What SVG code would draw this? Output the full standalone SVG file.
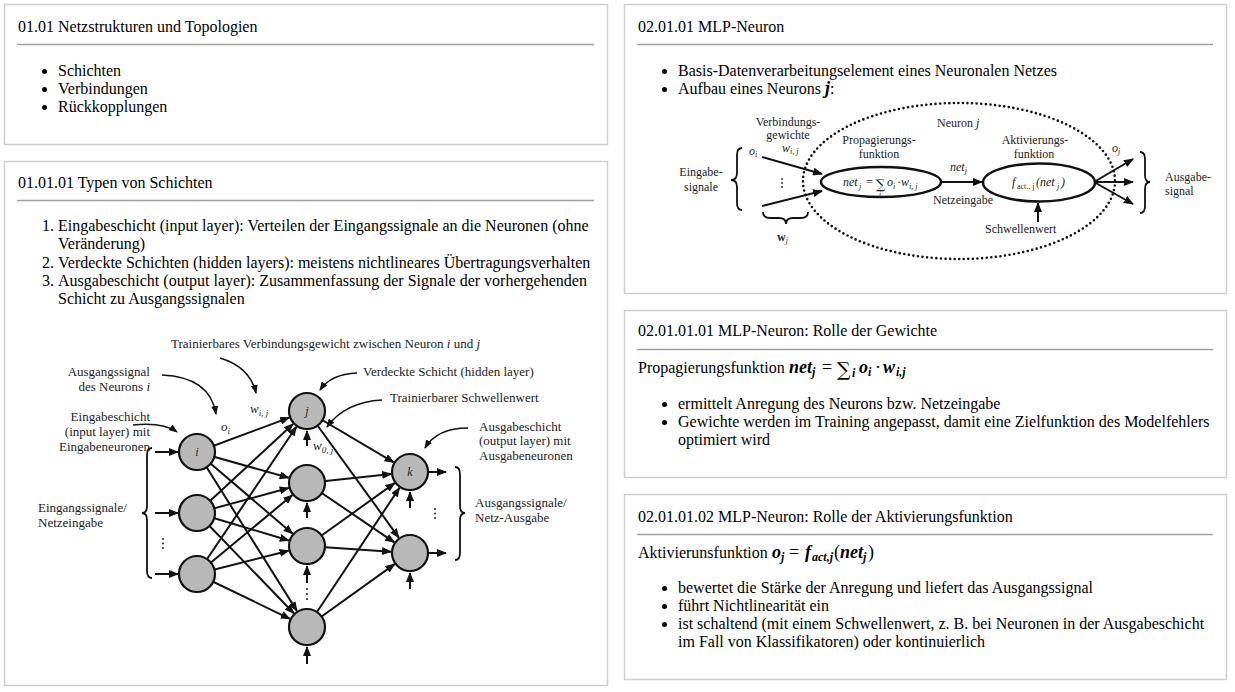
<svg xmlns="http://www.w3.org/2000/svg" width="1235" height="692" viewBox="0 0 1235 692">
<style>
.panel{fill:#fff;stroke:#cfcfcf;stroke-width:1.5}
.rule{stroke:#a0a0a0;stroke-width:1.3}
.t{font-family:"Liberation Serif","Times New Roman",serif;font-size:16px;fill:#000}
.f{font-family:"Liberation Serif","Times New Roman",serif;font-size:13px;fill:#222}
.g{font-family:"Liberation Serif","Times New Roman",serif;font-size:12px;fill:#222}
.it{font-style:italic}
.mb{font-style:italic;font-weight:bold;font-size:18px}
.sub{font-size:12px}
.ss{font-size:9px}
.sm{font-size:8px}
.bul{fill:#000}
.neu{fill:#b8b8b8;stroke:#111;stroke-width:2.2}
.e{fill:none;stroke:#111;stroke-width:2}
.la{fill:none;stroke:#111;stroke-width:1.5}
.br{fill:none;stroke:#111;stroke-width:1.8}
.dot{fill:#222}
.ell{fill:#fff;stroke:#111;stroke-width:2.5}
.dell{fill:none;stroke:#111;stroke-width:2.6;stroke-dasharray:0 4.6;stroke-linecap:round}
</style>
<defs>
<marker id="ah" viewBox="0 0 10 8" refX="9" refY="4" markerWidth="10" markerHeight="8" markerUnits="userSpaceOnUse" orient="auto"><path d="M0,0L10,4L0,8z" fill="#111"/></marker>
<marker id="as" viewBox="0 0 9 7" refX="8" refY="3.5" markerWidth="9" markerHeight="7" markerUnits="userSpaceOnUse" orient="auto"><path d="M0,0L9,3.5L0,7z" fill="#111"/></marker>
</defs>
<rect width="1235" height="692" fill="#fff"/>

<!-- Panel 1 -->
<g id="panel-netzstrukturen">
<rect class="panel" x="4.5" y="4.5" width="603" height="140"/>
<text class="t" x="18" y="32">01.01 Netzstrukturen und Topologien</text>
<line class="rule" x1="17" y1="44.5" x2="594" y2="44.5"/>
<circle class="bul" cx="44.5" cy="71.5" r="2.5"/><text class="t" x="58" y="76">Schichten</text>
<circle class="bul" cx="44.5" cy="89.5" r="2.5"/><text class="t" x="58" y="94">Verbindungen</text>
<circle class="bul" cx="44.5" cy="107.5" r="2.5"/><text class="t" x="58" y="112">Rückkopplungen</text>
</g>

<!-- Panel 2 -->
<g id="panel-typen">
<rect class="panel" x="4.5" y="161.5" width="603" height="524"/>
<text class="t" x="18" y="188">01.01.01 Typen von Schichten</text>
<line class="rule" x1="17" y1="200.5" x2="594" y2="200.5"/>
<text class="t" x="54" y="231" text-anchor="end">1.</text><text class="t" x="58" y="231">Eingabeschicht (input layer): Verteilen der Eingangssignale an die Neuronen (ohne</text>
<text class="t" x="58" y="249">Veränderung)</text>
<text class="t" x="54" y="268" text-anchor="end">2.</text><text class="t" x="58" y="268">Verdeckte Schichten (hidden layers): meistens nichtlineares Übertragungsverhalten</text>
<text class="t" x="54" y="286" text-anchor="end">3.</text><text class="t" x="58" y="286">Ausgabeschicht (output layer): Zusammenfassung der Signale der vorhergehenden</text>
<text class="t" x="58" y="304">Schicht zu Ausgangssignalen</text>
</g>

<!-- Network figure -->
<g id="connectors">
<line class="e" x1="197" y1="452" x2="289.2" y2="417.6" marker-end="url(#ah)"/>
<line class="e" x1="197" y1="452" x2="288.7" y2="477.8" marker-end="url(#ah)"/>
<line class="e" x1="197" y1="452" x2="292.6" y2="533.7" marker-end="url(#ah)"/>
<line class="e" x1="197" y1="452" x2="296.9" y2="610.9" marker-end="url(#ah)"/>
<line class="e" x1="197" y1="513" x2="293.1" y2="423.9" marker-end="url(#ah)"/>
<line class="e" x1="197" y1="513" x2="288.7" y2="488.0" marker-end="url(#ah)"/>
<line class="e" x1="197" y1="513" x2="288.8" y2="540.5" marker-end="url(#ah)"/>
<line class="e" x1="197" y1="513" x2="293.8" y2="613.3" marker-end="url(#ah)"/>
<line class="e" x1="197" y1="574" x2="296.4" y2="426.7" marker-end="url(#ah)"/>
<line class="e" x1="197" y1="574" x2="292.4" y2="495.1" marker-end="url(#ah)"/>
<line class="e" x1="197" y1="574" x2="288.6" y2="550.7" marker-end="url(#ah)"/>
<line class="e" x1="197" y1="574" x2="289.9" y2="618.8" marker-end="url(#ah)"/>
<line class="e" x1="307" y1="411" x2="393.7" y2="462.3" marker-end="url(#ah)"/>
<line class="e" x1="307" y1="411" x2="398.8" y2="537.6" marker-end="url(#ah)"/>
<line class="e" x1="307" y1="483" x2="391.1" y2="474.0" marker-end="url(#ah)"/>
<line class="e" x1="307" y1="483" x2="394.3" y2="542.3" marker-end="url(#ah)"/>
<line class="e" x1="307" y1="546" x2="394.6" y2="483.1" marker-end="url(#ah)"/>
<line class="e" x1="307" y1="546" x2="391.0" y2="551.7" marker-end="url(#ah)"/>
<line class="e" x1="307" y1="627" x2="399.5" y2="487.8" marker-end="url(#ah)"/>
<line class="e" x1="307" y1="627" x2="394.6" y2="564.1" marker-end="url(#ah)"/>
<!-- inputs -->
<line class="e" x1="155" y1="452" x2="178" y2="452" marker-end="url(#ah)"/>
<line class="e" x1="155" y1="513" x2="178" y2="513" marker-end="url(#ah)"/>
<line class="e" x1="155" y1="574" x2="178" y2="574" marker-end="url(#ah)"/>
<!-- outputs -->
<line class="e" x1="428" y1="472" x2="446" y2="472" marker-end="url(#ah)"/>
<line class="e" x1="428" y1="553" x2="446" y2="553" marker-end="url(#ah)"/>
<!-- biases -->
<line class="e" x1="307" y1="446" x2="307" y2="431" marker-end="url(#ah)"/>
<line class="e" x1="307" y1="518" x2="307" y2="503" marker-end="url(#ah)"/>
<line class="e" x1="307" y1="583" x2="307" y2="566" marker-end="url(#ah)"/>
<line class="e" x1="307" y1="664" x2="307" y2="647" marker-end="url(#ah)"/>
<line class="e" x1="410" y1="508" x2="410" y2="492" marker-end="url(#ah)"/>
<line class="e" x1="410" y1="589" x2="410" y2="573" marker-end="url(#ah)"/>
<!-- label arrows -->
<path class="la" d="M220,358 Q250,367 256,393" marker-end="url(#as)"/>
<path class="la" d="M162,375 Q210,377 216,414" marker-end="url(#as)"/>
<path class="la" d="M133,425 Q163,422 177,432" marker-end="url(#as)"/>
<path class="la" d="M357,373 Q331,374 320,390" marker-end="url(#as)"/>
<path class="la" d="M382,400 Q345,402 327,427" marker-end="url(#as)"/>
<path class="la" d="M468,428 Q437,428 425,448" marker-end="url(#as)"/>
</g>

<g id="input-neurons">
<g id="n-i"><circle class="neu" cx="197" cy="452" r="18"/><text class="g it" x="197" y="456" text-anchor="middle" fill="#444">i</text></g>
<g id="n-in2"><circle class="neu" cx="197" cy="513" r="18"/></g>
<g id="n-in3"><circle class="neu" cx="197" cy="574" r="18"/></g>
</g>
<g id="hidden-neurons">
<g id="n-j"><circle class="neu" cx="307" cy="411" r="18"/><text class="g it" x="307" y="415" text-anchor="middle" fill="#444">j</text></g>
<g id="n-h2"><circle class="neu" cx="307" cy="483" r="18"/></g>
<g id="n-h3"><circle class="neu" cx="307" cy="546" r="18"/></g>
<g id="n-h4"><circle class="neu" cx="307" cy="627" r="18"/></g>
</g>
<g id="output-neurons">
<g id="n-k"><circle class="neu" cx="410" cy="472" r="18"/><text class="g it" x="410" y="476" text-anchor="middle" fill="#444">k</text></g>
<g id="n-o2"><circle class="neu" cx="410" cy="553" r="18"/></g>
</g>

<g id="network-braces-dots">
<path class="br" d="M152,448 Q147,448 147,455 L147,506 Q147,513 142,513 Q147,513 147,520 L147,571 Q147,578 152,578"/>
<path class="br" d="M455,467 Q460,467 460,474 L460,506 Q460,513 465,513 Q460,513 460,520 L460,553 Q460,560 455,560"/>
<circle class="dot" cx="163" cy="539" r="1"/><circle class="dot" cx="163" cy="543.5" r="1"/><circle class="dot" cx="163" cy="548" r="1"/>
<circle class="dot" cx="307" cy="589" r="1"/><circle class="dot" cx="307" cy="594" r="1"/><circle class="dot" cx="307" cy="599" r="1"/>
<circle class="dot" cx="435" cy="509" r="1"/><circle class="dot" cx="435" cy="513.5" r="1"/><circle class="dot" cx="435" cy="518" r="1"/>
</g>

<g id="network-labels">
<text class="f" x="171" y="348">Trainierbares Verbindungsgewicht zwischen Neuron <tspan class="it">i</tspan> und <tspan class="it">j</tspan></text>
<text class="f" x="150" y="376" text-anchor="end">Ausgangssignal</text>
<text class="f" x="150" y="391" text-anchor="end">des Neurons <tspan class="it">i</tspan></text>
<text class="f" x="150" y="421" text-anchor="end">Eingabeschicht</text>
<text class="f" x="150" y="436" text-anchor="end">(input layer) mit</text>
<text class="f" x="150" y="451" text-anchor="end">Eingabeneuronen</text>
<text class="f" x="38" y="512">Eingangssignale/</text>
<text class="f" x="38" y="527">Netzeingabe</text>
<text class="f it" x="250" y="413">w<tspan class="ss" dy="3">i, j</tspan></text>
<text class="f it" x="221" y="431">o<tspan class="ss" dy="3">i</tspan></text>
<text class="f it" x="313" y="450">w<tspan class="ss" dy="3">0, j</tspan></text>
<text class="f" x="363" y="376">Verdeckte Schicht (hidden layer)</text>
<text class="f" x="390" y="402">Trainierbarer Schwellenwert</text>
<text class="f" x="479" y="430.5">Ausgabeschicht</text>
<text class="f" x="479" y="445">(output layer) mit</text>
<text class="f" x="479" y="459.5">Ausgabeneuronen</text>
<text class="f" x="475" y="507">Ausgangssignale/</text>
<text class="f" x="475" y="522">Netz-Ausgabe</text>
</g>

<!-- Panel 3 -->
<g id="panel-mlp-neuron">
<rect class="panel" x="624.5" y="4.5" width="602" height="289"/>
<text class="t" x="638" y="32">02.01.01 MLP-Neuron</text>
<line class="rule" x1="637" y1="44.5" x2="1213" y2="44.5"/>
<circle class="bul" cx="664.5" cy="71.5" r="2.5"/><text class="t" x="678" y="76">Basis-Datenverarbeitungselement eines Neuronalen Netzes</text>
<circle class="bul" cx="664.5" cy="89.5" r="2.5"/><text class="t" x="678" y="94">Aufbau eines Neurons <tspan class="mb" font-size="17">j</tspan>:</text>
</g>

<g id="neuron-diagram">
<ellipse class="dell" cx="959" cy="181" rx="156" ry="78"/>
<g id="neuron-connectors">
<line class="e" x1="762" y1="157" x2="822" y2="174" marker-end="url(#ah)"/>
<line class="e" x1="762" y1="206" x2="822" y2="191" marker-end="url(#ah)"/>
<line class="e" x1="941" y1="182" x2="982" y2="182" marker-end="url(#ah)"/>
<line class="e" x1="1038" y1="222" x2="1038" y2="203" marker-end="url(#ah)"/>
<line class="e" x1="1094" y1="182" x2="1133" y2="159" marker-end="url(#ah)"/>
<line class="e" x1="1094" y1="182" x2="1133" y2="182" marker-end="url(#ah)"/>
<line class="e" x1="1094" y1="182" x2="1133" y2="204" marker-end="url(#ah)"/>
</g>
<g id="propagierung">
<ellipse class="ell" cx="881" cy="182" rx="60" ry="15"/>
<text class="g it" y="186"><tspan x="843">net</tspan><tspan class="sm" x="859" y="189">j</tspan><tspan x="866" y="186" font-style="normal">=</tspan></text>
<text x="876" y="189" font-family="DejaVu Serif, serif" font-size="13" fill="#222">∑</text>
<text class="g it" y="186"><tspan class="sm" x="879" y="197">i</tspan><tspan x="887" y="186">o</tspan><tspan class="sm" x="893" y="189">i</tspan><tspan x="897" y="186" font-style="normal">·</tspan><tspan x="901" y="186">w</tspan><tspan class="sm" x="909" y="189">i, j</tspan></text>
</g>
<g id="aktivierung">
<ellipse class="ell" cx="1039" cy="182.5" rx="56" ry="19"/>
<text class="g it" y="186"><tspan x="1012">f</tspan><tspan class="sm" x="1017" y="189" font-style="normal">act., j</tspan><tspan x="1036" y="186">(net</tspan><tspan class="sm" x="1057" y="189">j</tspan><tspan x="1061" y="186">)</tspan></text>
</g>
<path class="br" d="M742,148 Q737,148 737,155 L737,173 Q737,180 731,180 Q737,180 737,187 L737,203 Q737,210 742,210" stroke-width="1.5"/>
<path class="br" d="M763,212 Q763,218 770,218 L779,218 Q786,218 786,224 Q786,218 793,218 L801,218 Q808,218 808,212" stroke-width="1.5"/>
<path class="br" d="M1140,152 Q1145,152 1145,159 L1145,175 Q1145,182 1150,182 Q1145,182 1145,189 L1145,206 Q1145,213 1140,213" stroke-width="1.5"/>
<circle class="dot" cx="782" cy="179" r="0.9"/><circle class="dot" cx="782" cy="183" r="0.9"/><circle class="dot" cx="782" cy="187" r="0.9"/>
<text class="g" x="788" y="125.5" text-anchor="middle">Verbindungs-</text>
<text class="g" x="788" y="139" text-anchor="middle">gewichte</text>
<text class="g it" x="782" y="152" font-size="11">w<tspan class="sm" dy="2">i, j</tspan></text>
<text class="g it" x="749" y="155">o<tspan class="sm" dy="2">i</tspan></text>
<text class="g" x="701" y="175.5" text-anchor="middle">Eingabe-</text>
<text class="g" x="701" y="190.5" text-anchor="middle">signale</text>
<text class="g" x="777" y="241" font-weight="bold">w<tspan class="sm it" font-weight="normal" dy="2">j</tspan></text>
<text class="g" x="937" y="127">Neuron <tspan class="it">j</tspan></text>
<text class="g" x="879" y="144" text-anchor="middle">Propagierungs-</text>
<text class="g" x="879" y="158" text-anchor="middle">funktion</text>
<text class="g it" x="950" y="171">net<tspan class="sm" dy="2">j</tspan></text>
<text class="g" x="933" y="203.5">Netzeingabe</text>
<text class="g" x="1035" y="144" text-anchor="middle">Aktivierungs-</text>
<text class="g" x="1034" y="158" text-anchor="middle">funktion</text>
<text class="g" x="985" y="233">Schwellenwert</text>
<text class="g it" x="1112" y="152">o<tspan class="sm" dy="2">j</tspan></text>
<text class="g" x="1165" y="180.5">Ausgabe-</text>
<text class="g" x="1165" y="195">signal</text>
</g>

<!-- Panel 4 -->
<g id="panel-gewichte">
<rect class="panel" x="624.5" y="310.5" width="602" height="167"/>
<text class="t" x="638" y="336">02.01.01.01 MLP-Neuron: Rolle der Gewichte</text>
<line class="rule" x1="637" y1="349.5" x2="1213" y2="349.5"/>
<text class="t" y="373"><tspan x="638">Propagierungsfunktion</tspan><tspan class="mb" x="789">net</tspan><tspan class="mb sub" x="812" y="376">j</tspan><tspan x="822" y="373" font-size="18">=</tspan></text>
<text x="837" y="376" font-family="DejaVu Serif, serif" font-size="19" fill="#000">∑</text>
<text class="t" y="373"><tspan class="mb sub" x="852" y="377">i</tspan><tspan class="mb" x="859" y="373">o</tspan><tspan class="mb sub" x="868" y="376">i</tspan><tspan x="875" y="373" font-size="18">·</tspan><tspan class="mb" x="883" y="373">w</tspan><tspan class="mb sub" x="896" y="376">i,j</tspan></text>
<circle class="bul" cx="664.5" cy="404.5" r="2.5"/><text class="t" x="678" y="409">ermittelt Anregung des Neurons bzw. Netzeingabe</text>
<circle class="bul" cx="664.5" cy="422.5" r="2.5"/><text class="t" x="678" y="427">Gewichte werden im Training angepasst, damit eine Zielfunktion des Modelfehlers</text>
<text class="t" x="678" y="445">optimiert wird</text>
</g>

<!-- Panel 5 -->
<g id="panel-aktivierung">
<rect class="panel" x="624.5" y="494.5" width="602" height="185"/>
<text class="t" x="638" y="522">02.01.01.02 MLP-Neuron: Rolle der Aktivierungsfunktion</text>
<line class="rule" x1="637" y1="534.5" x2="1213" y2="534.5"/>
<text class="t" y="558"><tspan x="638">Aktivierunsfunktion</tspan><tspan class="mb" x="772">o</tspan><tspan class="mb sub" x="781" y="561">j</tspan><tspan x="789" y="558" font-size="18">=</tspan><tspan class="mb" x="805" y="558">f</tspan><tspan class="mb sub" x="812" y="561">act,j</tspan><tspan x="834" y="558" font-size="18">(</tspan><tspan class="mb" x="840" y="558">net</tspan><tspan class="mb sub" x="863" y="561">j</tspan><tspan x="868" y="558" font-size="18">)</tspan></text>
<circle class="bul" cx="664.5" cy="588.5" r="2.5"/><text class="t" x="678" y="593">bewertet die Stärke der Anregung und liefert das Ausgangssignal</text>
<circle class="bul" cx="664.5" cy="606.5" r="2.5"/><text class="t" x="678" y="611">führt Nichtlinearität ein</text>
<circle class="bul" cx="664.5" cy="624.5" r="2.5"/><text class="t" x="678" y="629">ist schaltend (mit einem Schwellenwert, z. B. bei Neuronen in der Ausgabeschicht</text>
<text class="t" x="678" y="647">im Fall von Klassifikatoren) oder kontinuierlich</text>
</g>
</svg>
